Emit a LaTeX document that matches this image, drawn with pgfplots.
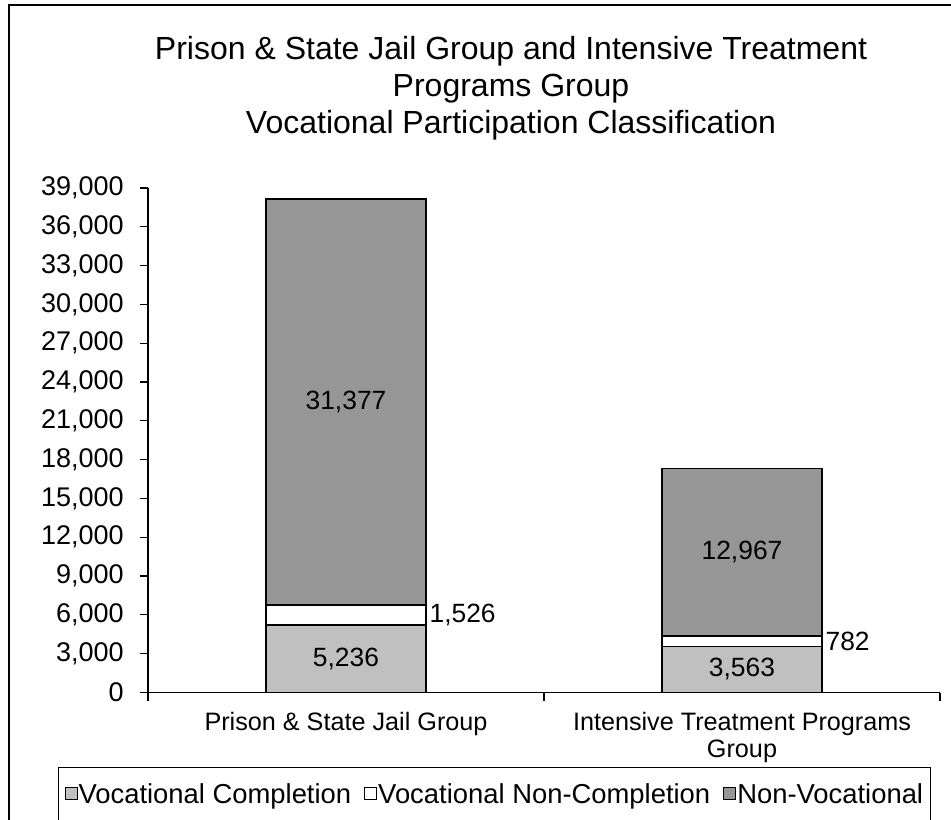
\documentclass[border=0pt]{standalone}
\usepackage{pgfplots}
\usepackage{pgfplotstable}
\pgfplotsset{compat=1.18}
\usepackage{fontspec}
\setmainfont{Liberation Sans}

\definecolor{vcomp}{HTML}{C0C0C0}
\definecolor{nonvoc}{HTML}{969696}

% counts per group: completion, non-completion, non-vocational
\pgfplotstableread{
x comp noncomp nonvoc
0 5236 1526 31377
1 3563 782 12967
}\vocdata

\begin{document}
\begin{tikzpicture}
\useasboundingbox (-74pt,-63.25pt) rectangle (401.5pt,346.25pt);
% chart frame (right and bottom edges are cropped off)
\draw[line width=0.75pt] (-69.5pt,-70pt) -- (-69.5pt,343.75pt) -- (420pt,343.75pt);
\begin{axis}[
    at={(0pt,0pt)}, anchor=south west,
    scale only axis,
    width=396pt, height=252.25pt,
    ybar stacked,
    bar width=80pt,
    xmin=-0.5, xmax=1.5,
    ymin=0, ymax=39000,
    ytick={0,3000,...,39000},
    scaled y ticks=false,
    xtick={-0.5,0.5,1.5},
    xticklabels={,,},
    extra x ticks={0,1},
    extra x tick labels={Prison \& State Jail Group, {Intensive Treatment Programs\\Group}},
    extra x tick style={major tick length=0pt},
    axis x line*=bottom, axis y line*=left,
    axis line style={line width=0.6pt},
    tick align=outside,
    major tick length=4pt,
    tick style={black, line width=0.6pt},
    /pgf/number format/assume math mode=true,
    /pgf/number format/1000 sep={,},
    y tick label style={font=\fontsize{13.5}{16}\selectfont, inner sep=0pt, xshift=-8pt},
    x tick label style={font=\fontsize{12.6}{13.5}\selectfont, align=center, anchor=north, yshift=-6.5pt},
    point meta=explicit,
    nodes near coords,
    nodes near coords style={font=\fontsize{13.2}{15}\selectfont, anchor=center},
    legend columns=3,
    legend style={at={(-0.11364,-0.14767)}, anchor=north west, draw=black, line width=0.6pt,
        font=\fontsize{13.7}{16}\selectfont, inner ysep=6pt, inner xsep=3pt,
        nodes={inner xsep=0.5pt},
        /tikz/every even column/.append style={column sep=6pt}},
    every axis plot post/.append style={legend image code/.code={
        \draw[#1, draw=black, line width=0.5pt] (0pt,-2pt) rectangle (6pt,4pt);}},
]
% stacked segments; labels sit at the middle of each segment
\addplot[fill=vcomp, draw=black, line width=0.9pt]
    table[x=x, y=comp, meta=comp] {\vocdata};
\addlegendentry{Vocational Completion}
\addplot[fill=white, draw=black, line width=0.9pt,
    nodes near coords style={anchor=west, xshift=38pt}]
    table[x=x, y=noncomp, meta=noncomp] {\vocdata};
\addlegendentry{Vocational Non-Completion}
\addplot[fill=nonvoc, draw=black, line width=0.9pt]
    table[x=x, y=nonvoc, meta=nonvoc] {\vocdata};
\addlegendentry{Non-Vocational}
\end{axis}
\node[font=\fontsize{16}{17.5}\selectfont, anchor=base] at (181.5pt,316.25pt) {Prison \& State Jail Group and Intensive Treatment};
\node[font=\fontsize{16}{17.5}\selectfont, anchor=base] at (181.5pt,298pt) {Programs Group};
\node[font=\fontsize{16}{17.5}\selectfont, anchor=base] at (181.5pt,279.5pt) {Vocational Participation Classification};
\end{tikzpicture}
\end{document}
